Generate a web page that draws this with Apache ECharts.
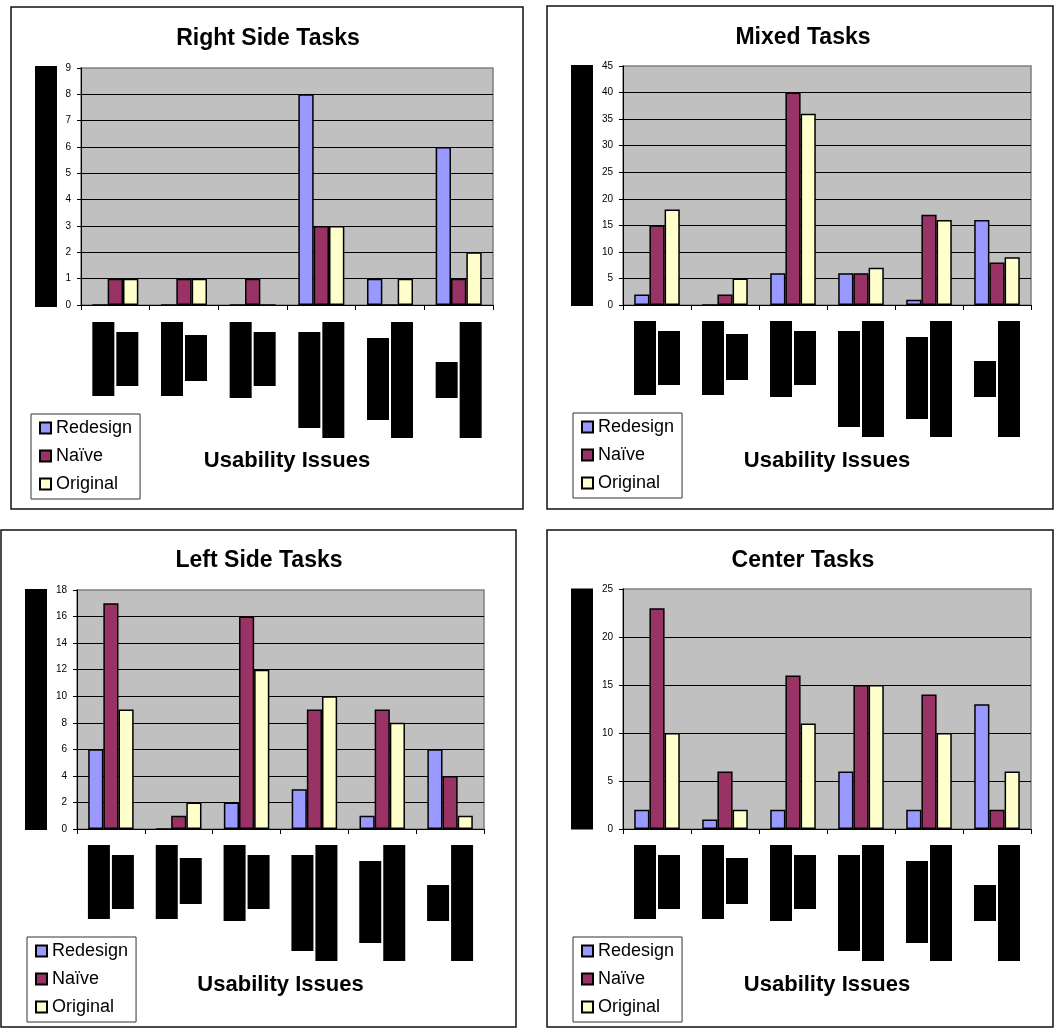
<!DOCTYPE html>
<html>
<head>
<meta charset="utf-8">
<script src="https://cdn.jsdelivr.net/npm/echarts@6/dist/echarts.min.js"></script>
<style>
html,body{margin:0;padding:0;background:#fff;}
#c{width:1054px;height:1028px;}
</style>
</head>
<body>
<div id="c"></div>
<script>
// ---------------- DATA ----------------
const seriesNames = ['Redesign', 'Naïve', 'Original'];
const issueLabels = ['Issue 1', 'Issue 2', 'Issue 3', 'Issue 4', 'Issue 5', 'Issue 6'];
const panelTitles = ['Right Side Tasks', 'Mixed Tasks', 'Left Side Tasks', 'Center Tasks'];
const xAxisTitle = 'Usability Issues';
const yMax = [9, 45, 18, 25];
const yStep = [1, 5, 2, 5];

const rightRedesign = [0, 0, 0, 8, 1, 6];
const rightNaive    = [1, 1, 1, 3, 0, 1];
const rightOriginal = [1, 1, 0, 3, 1, 2];

const mixedRedesign = [2, 0, 6, 6, 1, 16];
const mixedNaive    = [15, 2, 40, 6, 17, 8];
const mixedOriginal = [18, 5, 36, 7, 16, 9];

const leftRedesign = [6, 0, 2, 3, 1, 6];
const leftNaive    = [17, 1, 16, 9, 9, 4];
const leftOriginal = [9, 2, 12, 10, 8, 1];

const centerRedesign = [2, 1, 2, 6, 2, 13];
const centerNaive    = [23, 6, 16, 15, 14, 2];
const centerOriginal = [10, 2, 11, 15, 10, 6];

const panelData = [
  [rightRedesign, rightNaive, rightOriginal],
  [mixedRedesign, mixedNaive, mixedOriginal],
  [leftRedesign, leftNaive, leftOriginal],
  [centerRedesign, centerNaive, centerOriginal]
];

// ---------------- STYLE / LAYOUT ----------------
const FONT = "'Liberation Sans', Arial, Helvetica, sans-serif";
const colors = ['#9999ff', '#993366', '#ffffcc'];

const panels = [
  {frame: [11, 7, 512, 502], grid: [81, 68, 412, 237], titleX: 268, titleY: 39, legend: [31, 414], nameGap: 24, labelMargin: 17, xNameGap: 145},
  {frame: [547, 6, 506, 503], grid: [623, 66, 408, 239], titleX: 803, titleY: 38, legend: [573, 413], nameGap: 30, labelMargin: 16, xNameGap: 145},
  {frame: [1, 530, 515, 497], grid: [77, 590, 407, 239], titleX: 259, titleY: 561, legend: [27, 937], nameGap: 30, labelMargin: 16, xNameGap: 145},
  {frame: [547, 530, 506, 497], grid: [623, 589, 408, 240], titleX: 803, titleY: 561, legend: [573, 937], nameGap: 30, labelMargin: 16, xNameGap: 145}
];

// redacted (blacked-out) category label blocks
const blockW = 22;
const leftBlockH = [74, 74, 76, 96, 82, 36];
const leftBlockOff = [0, 0, 0, 10, 16, 40];
const rightBlockH = [54, 46, 54, 116, 116, 116];
const rightBlockOff = [10, 13, 10, 0, 0, 0];

function blockRich(H, Off) {
  const r = {};
  for (let i = 0; i < H.length; i++) {
    r['g' + i] = {width: 1, height: Math.max(Off[i], 1), lineHeight: Math.max(Off[i], 1)};
    r['b' + i] = {width: blockW, height: H[i], lineHeight: H[i], backgroundColor: '#000'};
  }
  return r;
}
function blockFormatter(Off) {
  return function (v, i) {
    return (Off[i] > 0 ? '{g' + i + '|}\n' : '') + '{b' + i + '|}';
  };
}

const option = {
  animation: false,
  textStyle: {fontFamily: FONT},
  graphic: panels.map(p => ({
    type: 'rect', silent: true, z: 100,
    shape: {x: p.frame[0], y: p.frame[1], width: p.frame[2], height: p.frame[3]},
    style: {fill: 'none', stroke: '#111', lineWidth: 1.5}
  })),
  title: panels.map((p, k) => ({
    text: panelTitles[k], left: p.titleX, top: p.titleY - 12, textAlign: 'center', padding: 0,
    textStyle: {fontSize: 23, fontWeight: 'bold', color: '#000', fontFamily: FONT}
  })),
  legend: panels.map(p => ({
    orient: 'vertical', left: p.legend[0], top: p.legend[1],
    itemWidth: 11, itemHeight: 11, itemGap: 10, padding: [5, 8, 6, 8],
    borderColor: '#333', borderWidth: 1, backgroundColor: '#fff',
    icon: 'rect', selectedMode: false, data: seriesNames,
    textStyle: {fontSize: 18, color: '#000', fontFamily: FONT}
  })),
  grid: panels.map(p => ({
    left: p.grid[0], top: p.grid[1], width: p.grid[2], height: p.grid[3],
    show: true, backgroundColor: '#c0c0c0', borderColor: '#808080', borderWidth: 1.5
  })),
  xAxis: panels.flatMap((p, k) => [
    {
      gridIndex: k, type: 'category', data: issueLabels, position: 'bottom',
      name: xAxisTitle, nameLocation: 'middle', nameGap: p.xNameGap,
      nameTextStyle: {fontSize: 22, fontWeight: 'bold', color: '#000', fontFamily: FONT},
      axisLine: {show: true, lineStyle: {color: '#000', width: 1}},
      axisTick: {show: true, length: 5, lineStyle: {color: '#000'}},
      axisLabel: {interval: 0, margin: p.labelMargin, align: 'right', padding: [0, 1, 0, 0],
        formatter: blockFormatter(leftBlockOff), rich: blockRich(leftBlockH, leftBlockOff)},
      splitLine: {show: false}
    },
    {
      gridIndex: k, type: 'category', data: issueLabels, position: 'bottom',
      axisLine: {show: false}, axisTick: {show: false},
      axisLabel: {interval: 0, margin: p.labelMargin, align: 'left', padding: [0, 0, 0, 1],
        formatter: blockFormatter(rightBlockOff), rich: blockRich(rightBlockH, rightBlockOff)},
      splitLine: {show: false}
    }
  ]),
  yAxis: panels.map((p, k) => ({
    gridIndex: k, type: 'value', min: 0, max: yMax[k], interval: yStep[k],
    name: '{b|}', nameLocation: 'middle', nameGap: p.nameGap,
    nameTextStyle: {rich: {b: {width: 241, height: 22, lineHeight: 22, backgroundColor: '#000'}}},
    axisLine: {show: true, lineStyle: {color: '#000', width: 1}},
    axisTick: {show: true, length: 4, lineStyle: {color: '#000'}},
    axisLabel: {fontSize: 10, color: '#000', margin: 10, fontFamily: FONT},
    splitLine: {show: true, showMinLine: false, showMaxLine: false, lineStyle: {color: '#000', width: 1}}
  })),
  series: panelData.flatMap((arr, k) => arr.map((d, s) => ({
    type: 'bar', name: seriesNames[s], xAxisIndex: 2 * k, yAxisIndex: k, data: d,
    barGap: '0%', barCategoryGap: '33%',
    itemStyle: {color: colors[s], borderColor: '#000', borderWidth: 1.5},
    emphasis: {disabled: true}
  })))
};

const chart = echarts.init(document.getElementById('c'), null, {renderer: 'canvas'});
chart.setOption(option);
</script>
</body>
</html>
